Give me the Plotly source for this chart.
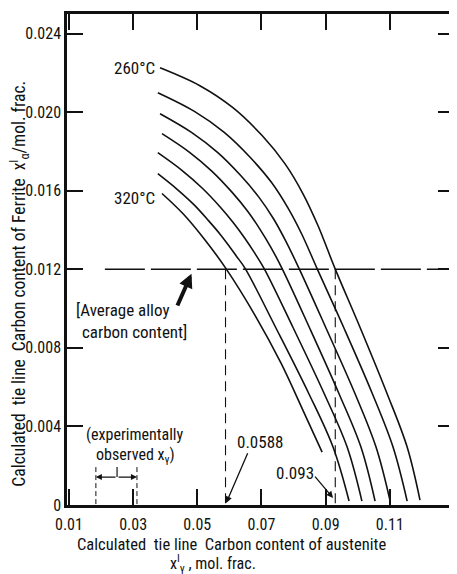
import plotly.graph_objects as go

# ---- data ----
temps = ["260", "270", "280", "290", "300", "310", "320"]

c260_x = [0.0384, 0.0508, 0.0611, 0.0702, 0.0773, 0.0829, 0.0876, 0.0929, 0.1007, 0.1091, 0.1154, 0.1194]
c260_y = [0.02226, 0.02135, 0.02023, 0.01881, 0.01738, 0.01586, 0.01423, 0.01205, 0.00905, 0.00569, 0.00295, 0.00025]

c270_x = [0.0377, 0.0491, 0.0584, 0.0666, 0.0731, 0.0782, 0.0825, 0.0873, 0.0956, 0.1045, 0.1110, 0.1154]
c270_y = [0.02099, 0.02004, 0.01897, 0.01768, 0.01643, 0.01514, 0.01381, 0.01205, 0.00905, 0.00569, 0.00295, 0.00020]

c280_x = [0.0384, 0.0483, 0.0564, 0.0636, 0.0693, 0.0738, 0.0775, 0.0817, 0.0900, 0.0991, 0.1057, 0.1101]
c280_y = [0.01992, 0.01896, 0.01794, 0.01676, 0.01565, 0.01456, 0.01346, 0.01205, 0.00905, 0.00569, 0.00295, 0.00020]

c290_x = [0.0390, 0.0476, 0.0546, 0.0608, 0.0657, 0.0695, 0.0728, 0.0764, 0.0849, 0.0941, 0.1010, 0.1054]
c290_y = [0.01891, 0.01796, 0.01699, 0.01593, 0.01496, 0.01405, 0.01316, 0.01205, 0.00905, 0.00569, 0.00295, 0.00020]

c300_x = [0.0377, 0.0453, 0.0515, 0.0570, 0.0613, 0.0647, 0.0676, 0.0708, 0.0798, 0.0895, 0.0967, 0.1013]
c300_y = [0.01794, 0.01703, 0.01614, 0.01520, 0.01436, 0.01361, 0.01290, 0.01205, 0.00905, 0.00569, 0.00295, 0.00020]

c310_x = [0.0377, 0.0439, 0.0491, 0.0535, 0.0571, 0.0599, 0.0622, 0.0649, 0.0744, 0.0847, 0.0923, 0.0973]
c310_y = [0.01687, 0.01605, 0.01527, 0.01448, 0.01379, 0.01319, 0.01267, 0.01205, 0.00905, 0.00569, 0.00295, 0.00020]

c320_x = [0.0390, 0.0455, 0.0518, 0.0589, 0.0680, 0.0761, 0.0829, 0.0889]
c320_y = [0.01586, 0.01484, 0.01362, 0.01205, 0.00966, 0.00722, 0.00483, 0.00269]

curves_x = [c260_x, c270_x, c280_x, c290_x, c300_x, c310_x, c320_x]
curves_y = [c260_y, c270_y, c280_y, c290_y, c300_y, c310_y, c320_y]

avg_carbon = 0.012
avg_line_x = [0.0212, 0.1297]
x_low_cross = 0.0588
x_high_cross = 0.093
exp_range = [0.0184, 0.0312]
exp_mid = 0.0250

x_ticks = [0.01, 0.03, 0.05, 0.07, 0.09, 0.11, 0.13]
x_tick_text = ["0.01", "0.03", "0.05", "0.07", "0.09", "0.11", "0.13"]
y_ticks = [0, 0.004, 0.008, 0.012, 0.016, 0.020, 0.024]
y_tick_text = ["0", "0.004", "0.008", "0.012", "0.016", "0.020", "0.024"]

FONT = "Liberation Sans Narrow, Roboto Condensed, Roboto, sans-serif"
BLACK = "#111111"
fs = 17

fig = go.Figure()

for t, xs, ys in zip(temps, curves_x, curves_y):
    fig.add_trace(go.Scatter(x=xs, y=ys, mode="lines", name=t + " °C",
                             line=dict(color=BLACK, width=1.6, shape="spline", smoothing=1.0),
                             showlegend=False, hoverinfo="skip"))

# average alloy carbon content line
fig.add_trace(go.Scatter(x=avg_line_x, y=[avg_carbon, avg_carbon], mode="lines",
                         line=dict(color=BLACK, width=1.4, dash="40px,6px"),
                         showlegend=False, hoverinfo="skip"))
# vertical dashed drops
for xv in [x_low_cross, x_high_cross]:
    fig.add_trace(go.Scatter(x=[xv, xv], y=[avg_carbon, 0], mode="lines",
                             line=dict(color=BLACK, width=1.1, dash="10px,6px"),
                             showlegend=False, hoverinfo="skip"))
# experimental range bounds
for xv in exp_range:
    fig.add_trace(go.Scatter(x=[xv, xv], y=[0.00193, 0], mode="lines",
                             line=dict(color=BLACK, width=1.0, dash="5px,3px"),
                             showlegend=False, hoverinfo="skip"))
fig.add_trace(go.Scatter(x=[exp_mid, exp_mid], y=[0.00142, 0.00193], mode="lines",
                         line=dict(color=BLACK, width=1.2),
                         showlegend=False, hoverinfo="skip"))

ann = []
def txt(x, y, s, xanchor="center", size=fs):
    ann.append(dict(x=x, y=y, xref="x", yref="y", text=s, showarrow=False,
                    xanchor=xanchor, yanchor="middle",
                    font=dict(family=FONT, size=size, color=BLACK)))

txt(0.0376, 0.02226, "260°C", xanchor="right")
txt(0.0376, 0.01565, "320°C", xanchor="right")
txt(0.0268, 0.00991, "[Average alloy")
txt(0.0303, 0.00879, "carbon content]")
txt(0.0306, 0.00358, "(experimentally", size=16)
txt(0.0309, 0.00250, "observed x<sub>γ</sub>)", size=16)
txt(0.0695, 0.00322, "0.0588")
txt(0.0806, 0.00161, "0.093")

def arrow(x, y, ax, ay, width=1.3, head=2, size=1.0):
    ann.append(dict(x=x, y=y, ax=ax, ay=ay, xref="x", yref="y", axref="x", ayref="y",
                    text="", showarrow=True, arrowhead=head, arrowsize=size,
                    arrowwidth=width, arrowcolor=BLACK))

arrow(0.0482, 0.01178, 0.0436, 0.01008, width=4, head=2, size=0.7)
arrow(0.0590, 0.0001, 0.0659, 0.00271)
arrow(0.0923, 0.00036, 0.0863, 0.00152)
arrow(exp_range[0], 0.00142, exp_mid, 0.00142, width=1.2, head=2, size=1.0)
arrow(exp_range[1], 0.00142, exp_mid, 0.00142, width=1.2, head=2, size=1.0)

# axis titles
ann.append(dict(x=0.424, y=-0.0805, xref="paper", yref="paper", showarrow=False,
                text="Calculated  tie line  Carbon content of austenite",
                xanchor="center", yanchor="middle",
                font=dict(family=FONT, size=16.5, color=BLACK)))
ann.append(dict(x=0.377, y=-0.119, xref="paper", yref="paper", showarrow=False,
                text="x<sup>I</sup><sub>γ</sub> , mol. frac.",
                xanchor="center", yanchor="middle",
                font=dict(family=FONT, size=16, color=BLACK)))
ann.append(dict(x=-0.125, y=0.45, xref="paper", yref="paper", showarrow=False,
                text="Calculated  tie line  Carbon content of Ferrite  x<sup>I</sup><sub>α</sub>/mol. frac.",
                textangle=-90, xanchor="center", yanchor="middle",
                font=dict(family=FONT, size=17.5, color=BLACK)))

axis_common = dict(showline=True, linecolor=BLACK, linewidth=2.5, mirror="ticks",
                   ticks="inside", ticklen=16, tickwidth=2, tickcolor=BLACK,
                   showgrid=False, zeroline=False, automargin=False,
                   tickfont=dict(family=FONT, size=16, color=BLACK))

# the page body adds an 8px margin, so the figure is sized to sit inside the window
fig.update_layout(
    width=449, height=566,
    margin=dict(l=59, r=3, t=6, b=69),
    paper_bgcolor="white", plot_bgcolor="white",
    xaxis=dict(range=[0.0094, 0.1300], tickvals=x_ticks, ticktext=x_tick_text,
               ticklabelstandoff=3, **axis_common),
    yaxis=dict(range=[0, 0.025], tickvals=y_ticks, ticktext=y_tick_text, **axis_common),
    annotations=ann,
    showlegend=False,
)

fig.write_html("out.html")
